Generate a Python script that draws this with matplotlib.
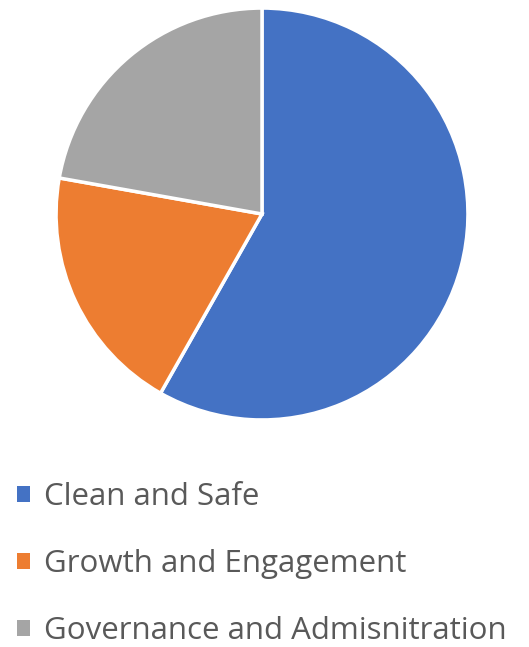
import matplotlib
matplotlib.use("Agg")
import matplotlib.pyplot as plt
from matplotlib.patches import Patch

# --- data ---
categories = ["Clean and Safe", "Growth and Engagement", "Governance and Admisnitration"]
shares = [58.2, 19.6, 22.2]
colors = ["#4472C4", "#ED7D31", "#A5A5A5"]

plt.rcParams['font.family'] = ['Open Sans', 'DejaVu Sans']

W, H = 529, 647
fig = plt.figure(figsize=(W / 100, H / 100), dpi=100)

# pie axes, placed in pixel terms
cx, cy, r = 262, 214, 208
ax = fig.add_axes([(cx - r) / W, (H - cy - r) / H, 2 * r / W, 2 * r / H])
ax.pie(
    shares,
    colors=colors,
    startangle=90,
    counterclock=False,
    radius=1.0,
    wedgeprops=dict(edgecolor="white", linewidth=2.5),
)
ax.set_xlim(-1.01, 1.01)
ax.set_ylim(-1.01, 1.01)
ax.set_aspect("equal")
ax.axis("off")

# --- legend ---
handles = [Patch(facecolor=c, edgecolor="none") for c in colors]
leg = fig.legend(
    handles, categories,
    loc="upper left",
    bbox_to_anchor=(11 / W, (H - 476) / H),
    frameon=False,
    fontsize=22.5,
    handlelength=0.4,
    handleheight=0.4,
    handletextpad=0.45,
    labelspacing=1.18,
    borderaxespad=0,
    borderpad=0.2,
)
for t in leg.get_texts():
    t.set_color("#595959")

fig.savefig("out.png", dpi=100)
